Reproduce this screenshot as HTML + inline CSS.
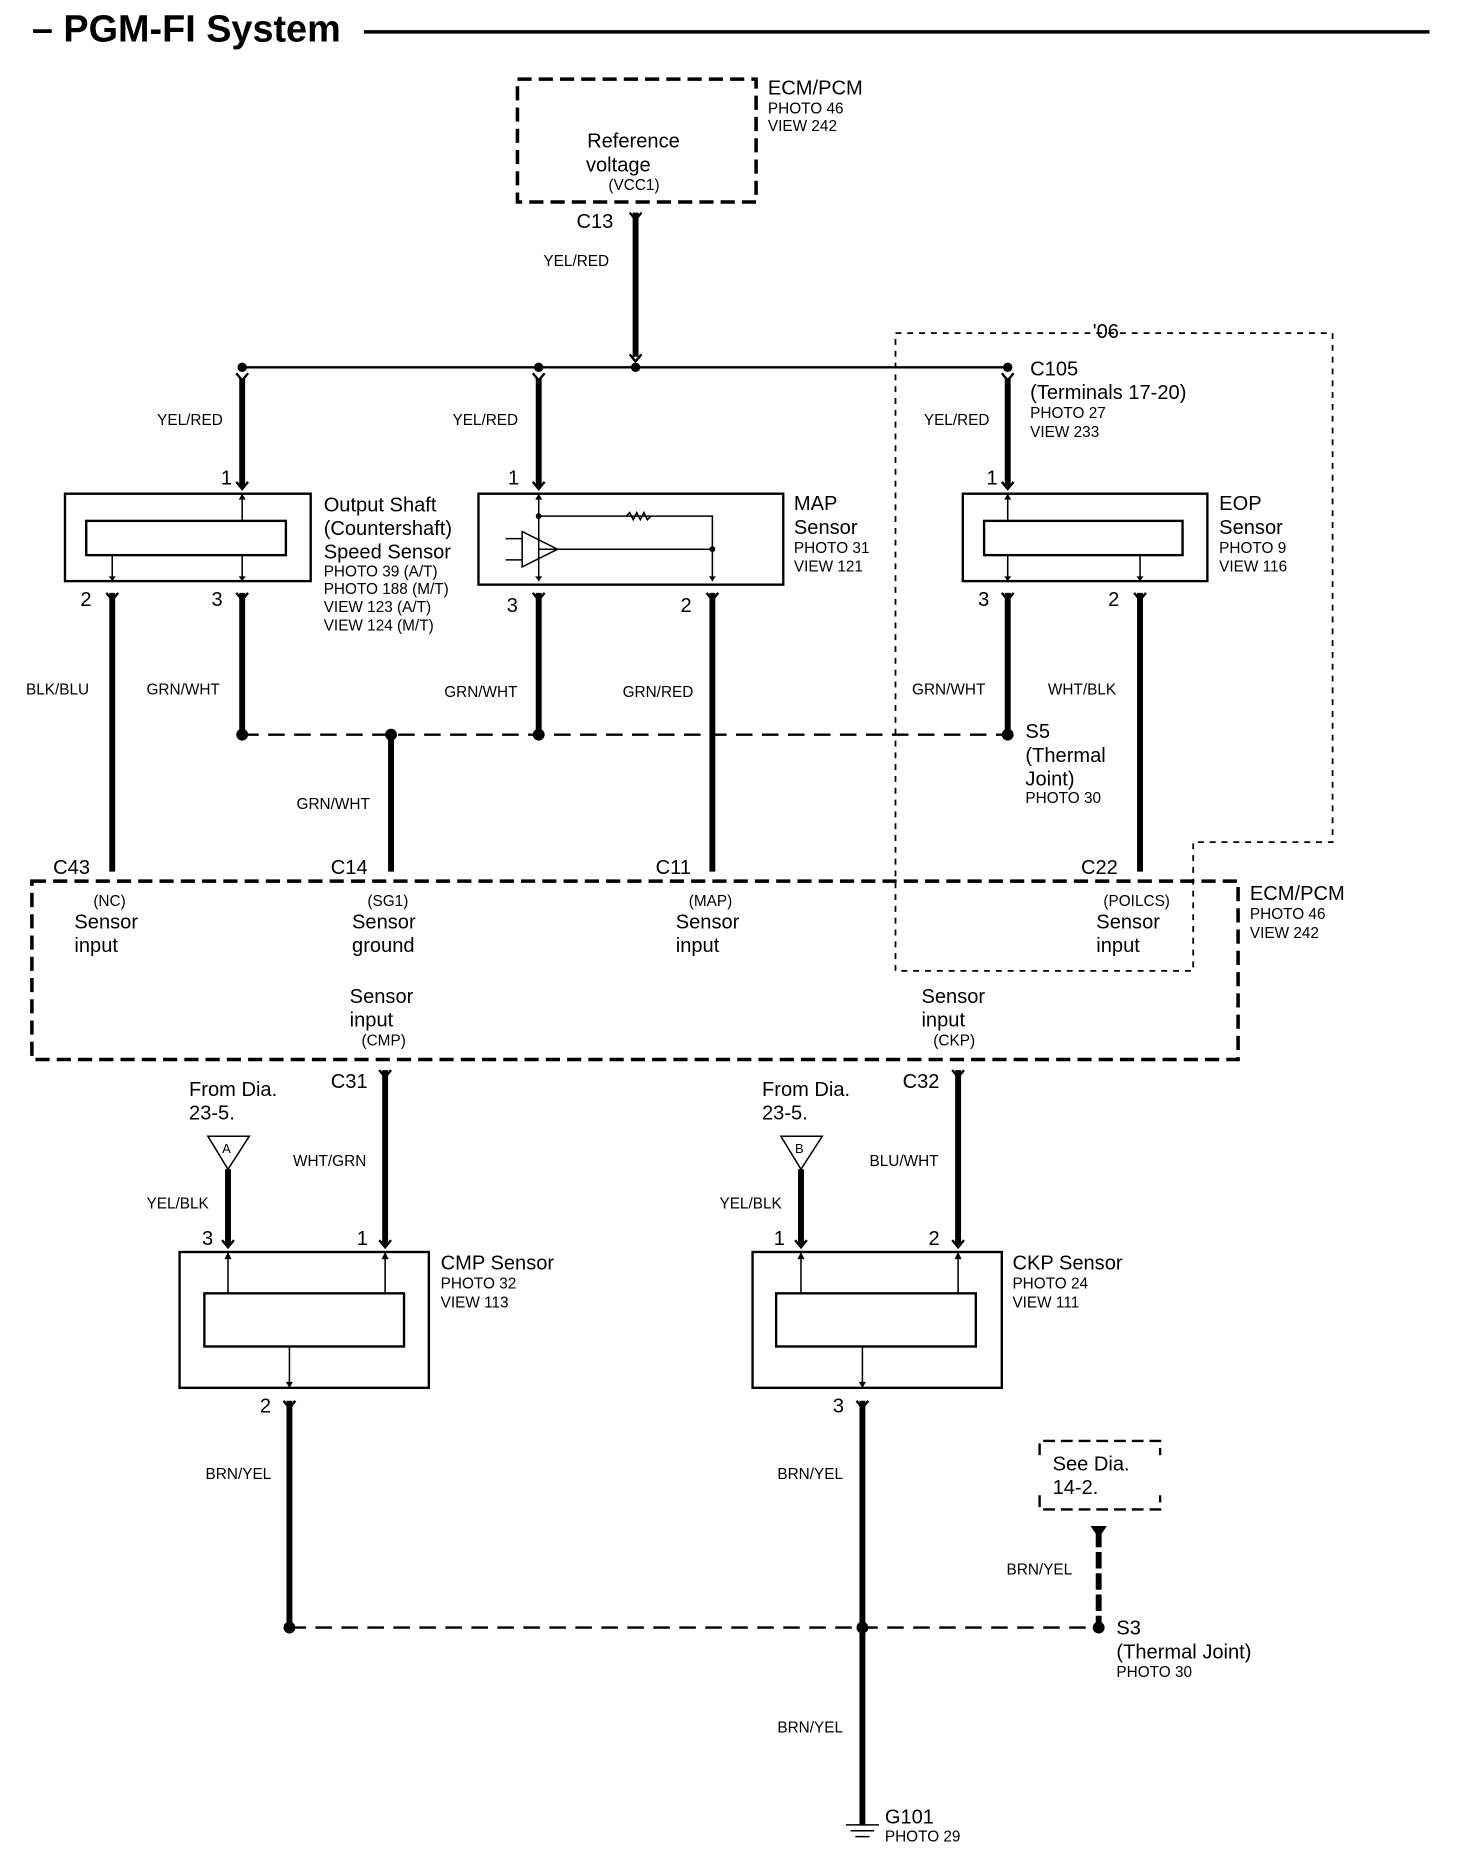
<!DOCTYPE html>
<html><head><meta charset="utf-8"><style>html,body{margin:0;padding:0;background:#fff}svg{display:block}</style></head><body>
<svg width="1472" height="1852" viewBox="0 0 1246 1568" preserveAspectRatio="none" xmlns="http://www.w3.org/2000/svg" font-family="Liberation Sans, sans-serif" fill="#000">
<defs>
<g id="cv"><path d="M-5,-6 L0,0 L5,-6" fill="none" stroke="#000" stroke-width="2"/></g>
</defs>
<text x="27" y="35" font-size="32" font-weight="bold">– PGM-FI System</text>
<line x1="308" y1="27" x2="1210" y2="27" stroke="#000" stroke-width="3"/>

<g fill="none" stroke="#000" stroke-width="3" stroke-dasharray="12,6">
<rect x="438" y="67" width="202" height="104"/>
<rect x="27" y="746" width="1021" height="151"/>
</g>
<path d="M758,282 H1128 V713 H1010 V822 H758 Z" fill="none" stroke="#000" stroke-width="1.5" stroke-dasharray="5,5"/>
<path d="M880,1232 V1220 H982 V1232 M880,1266 V1278 H982 V1266" fill="none" stroke="#000" stroke-width="2" stroke-dasharray="10,5"/>
<text x="891" y="1245" font-size="17">See Dia.</text><text x="891" y="1265" font-size="17">14-2.</text>

<g font-size="17">
<text x="650" y="80">ECM/PCM</text>
<text x="497" y="125">Reference</text><text x="496" y="145">voltage</text>
<text x="488" y="193">C13</text>
<text x="872" y="318">C105</text><text x="872" y="338">(Terminals 17-20)</text>
<text x="274" y="433">Output Shaft</text><text x="274" y="453">(Countershaft)</text><text x="274" y="473">Speed Sensor</text>
<text x="672" y="432">MAP</text><text x="672" y="452">Sensor</text>
<text x="1032" y="432">EOP</text><text x="1032" y="452">Sensor</text>
<text x="868" y="625">S5</text><text x="868" y="645">(Thermal</text><text x="868" y="665">Joint)</text>
<text x="45" y="740">C43</text><text x="280" y="740">C14</text><text x="555" y="740">C11</text><text x="915" y="740">C22</text>
<text x="63" y="786">Sensor</text><text x="63" y="806">input</text>
<text x="298" y="786">Sensor</text><text x="298" y="806">ground</text>
<text x="572" y="786">Sensor</text><text x="572" y="806">input</text>
<text x="928" y="786">Sensor</text><text x="928" y="806">input</text>
<text x="1058" y="762">ECM/PCM</text>
<text x="296" y="849">Sensor</text><text x="296" y="869">input</text>
<text x="780" y="849">Sensor</text><text x="780" y="869">input</text>
<text x="280" y="921">C31</text><text x="764" y="921">C32</text>
<text x="160" y="928">From Dia.</text><text x="160" y="948">23-5.</text>
<text x="645" y="928">From Dia.</text><text x="645" y="948">23-5.</text>
<text x="373" y="1075">CMP Sensor</text><text x="857" y="1075">CKP Sensor</text>
<text x="945" y="1384">S3</text><text x="945" y="1404">(Thermal Joint)</text>
<text x="749" y="1544">G101</text>
<text x="187" y="410">1</text><text x="68" y="513">2</text><text x="179" y="513">3</text>
<text x="430" y="410">1</text><text x="429" y="518">3</text><text x="576" y="518">2</text>
<text x="835" y="410">1</text><text x="828" y="513">3</text><text x="938" y="513">2</text>
<text x="171" y="1054">3</text><text x="302" y="1054">1</text>
<text x="655" y="1054">1</text><text x="786" y="1054">2</text>
<text x="220" y="1196">2</text><text x="705" y="1196">3</text>
<text x="925" y="286">'06</text>
</g>
<g font-size="13">
<text x="650" y="96">PHOTO 46</text><text x="650" y="111">VIEW 242</text>
<text x="515" y="161">(VCC1)</text>
<text x="460" y="225">YEL/RED</text>
<text x="133" y="360">YEL/RED</text><text x="383" y="360">YEL/RED</text><text x="782" y="360">YEL/RED</text>
<text x="872" y="354">PHOTO 27</text><text x="872" y="370">VIEW 233</text>
<text x="274" y="488">PHOTO 39 (A/T)</text><text x="274" y="503">PHOTO 188 (M/T)</text><text x="274" y="518">VIEW 123 (A/T)</text><text x="274" y="534">VIEW 124 (M/T)</text>
<text x="672" y="468">PHOTO 31</text><text x="672" y="484">VIEW 121</text>
<text x="1032" y="468">PHOTO 9</text><text x="1032" y="484">VIEW 116</text>
<text x="22" y="588">BLK/BLU</text><text x="124" y="588">GRN/WHT</text><text x="376" y="590">GRN/WHT</text><text x="527" y="590">GRN/RED</text>
<text x="772" y="588">GRN/WHT</text><text x="887" y="588">WHT/BLK</text>
<text x="868" y="680">PHOTO 30</text>
<text x="251" y="685">GRN/WHT</text>
<text x="79" y="767">(NC)</text><text x="311" y="767">(SG1)</text><text x="583" y="767">(MAP)</text><text x="934" y="767">(POILCS)</text>
<text x="1058" y="778">PHOTO 46</text><text x="1058" y="794">VIEW 242</text>
<text x="306" y="885">(CMP)</text><text x="790" y="885">(CKP)</text>
<text x="248" y="987">WHT/GRN</text><text x="736" y="987">BLU/WHT</text>
<text x="124" y="1023">YEL/BLK</text><text x="609" y="1023">YEL/BLK</text>
<text x="373" y="1091">PHOTO 32</text><text x="373" y="1107">VIEW 113</text>
<text x="857" y="1091">PHOTO 24</text><text x="857" y="1107">VIEW 111</text>
<text x="174" y="1252">BRN/YEL</text><text x="658" y="1252">BRN/YEL</text><text x="852" y="1333">BRN/YEL</text>
<text x="945" y="1420">PHOTO 30</text>
<text x="658" y="1467">BRN/YEL</text>
<text x="749" y="1559">PHOTO 29</text>
</g>

<g stroke="#000" stroke-width="5">
<line x1="538" y1="180" x2="538" y2="302"/>
<line x1="205" y1="320" x2="205" y2="412"/><line x1="456" y1="320" x2="456" y2="412"/><line x1="853" y1="320" x2="853" y2="412"/>
<line x1="95" y1="502" x2="95" y2="738"/><line x1="205" y1="502" x2="205" y2="622"/><line x1="456" y1="502" x2="456" y2="622"/>
<line x1="603" y1="502" x2="603" y2="738"/><line x1="853" y1="502" x2="853" y2="622"/><line x1="965" y1="502" x2="965" y2="738"/>
<line x1="331" y1="622" x2="331" y2="738"/>
<line x1="326" y1="906" x2="326" y2="1054"/><line x1="811" y1="906" x2="811" y2="1054"/>
<line x1="193" y1="990" x2="193" y2="1054"/><line x1="678" y1="990" x2="678" y2="1054"/>
<line x1="245" y1="1186" x2="245" y2="1378"/><line x1="730" y1="1186" x2="730" y2="1545"/>
<line x1="930" y1="1296" x2="930" y2="1378" stroke-dasharray="14,4"/>
</g>
<line x1="205" y1="311" x2="853" y2="311" stroke="#000" stroke-width="2"/>
<line x1="205" y1="622" x2="853" y2="622" stroke="#000" stroke-width="2" stroke-dasharray="14,8"/>
<line x1="245" y1="1378" x2="930" y2="1378" stroke="#000" stroke-width="2" stroke-dasharray="14,8"/>
<g>
<circle cx="205" cy="311" r="4"/><circle cx="456" cy="311" r="4"/><circle cx="538" cy="311" r="4"/><circle cx="853" cy="311" r="4"/>
<circle cx="205" cy="622" r="5"/><circle cx="331" cy="622" r="5"/><circle cx="456" cy="622" r="5"/><circle cx="853" cy="622" r="5"/>
<circle cx="245" cy="1378" r="5"/><circle cx="730" cy="1378" r="5"/><circle cx="930" cy="1378" r="5"/>
</g>
<g>
<use href="#cv" x="538" y="186"/><use href="#cv" x="538" y="306"/>
<use href="#cv" x="205" y="322"/><use href="#cv" x="456" y="322"/><use href="#cv" x="853" y="322"/>
<use href="#cv" x="205" y="414"/><use href="#cv" x="456" y="414"/><use href="#cv" x="853" y="414"/>
<use href="#cv" x="95" y="508"/><use href="#cv" x="205" y="508"/><use href="#cv" x="456" y="508"/><use href="#cv" x="603" y="508"/><use href="#cv" x="853" y="508"/><use href="#cv" x="965" y="508"/>
<use href="#cv" x="326" y="912"/><use href="#cv" x="811" y="912"/>
<use href="#cv" x="193" y="1056"/><use href="#cv" x="326" y="1056"/><use href="#cv" x="678" y="1056"/><use href="#cv" x="811" y="1056"/>
<use href="#cv" x="245" y="1192"/><use href="#cv" x="730" y="1192"/>
</g>
<path d="M923,1292 H937 L930,1302 Z"/>

<g fill="none" stroke="#000" stroke-width="2">
<rect x="55" y="418" width="208" height="74"/><rect x="73" y="441" width="169" height="29"/>
<rect x="405" y="418" width="258" height="77"/>
<rect x="815" y="418" width="207" height="74"/><rect x="833" y="441" width="168" height="29"/>
<rect x="152" y="1060" width="211" height="115"/><rect x="173" y="1095" width="169" height="45"/>
<rect x="637" y="1060" width="211" height="115"/><rect x="657" y="1095" width="169" height="45"/>
</g>
<g fill="none" stroke="#000" stroke-width="1.3">
<path d="M95,470 V492 M205,418 V441 M205,470 V492 M853,418 V441 M853,470 V492 M965,470 V492"/>
<path d="M456,418 V492 M456,437 H603 V492 M456,465 H470 M603,465 H470"/>
<path d="M442,450 L472,465 L442,480 Z M428,456 H442 M428,474 H442"/>
<path d="M193,1060 V1095 M326,1060 V1095 M245,1140 V1175 M678,1060 V1095 M811,1060 V1095 M730,1140 V1175"/>
<path d="M530,437 l3,-3 3,6 3,-6 3,6 3,-6 3,6 3,-3"/>
<path d="M176,962 H211 L193,990 Z M661,962 H696 L678,990 Z"/>
<path d="M716,1545 H744 M720,1550 H740 M724,1555 H736"/>
</g>
<circle cx="456" cy="437" r="2.5"/><circle cx="603" cy="465" r="2.5"/>
<g fill="#000" stroke="none">
<path d="M202,423 l3,-5 3,5z M202,488 l3,4 3,-4z M92,488 l3,4 3,-4z M850,423 l3,-5 3,5z M850,488 l3,4 3,-4z M962,488 l3,4 3,-4z M453,423 l3,-5 3,5z M453,488 l3,4 3,-4z M600,488 l3,4 3,-4z"/>
<path d="M190,1066 l3,-6 3,6z M323,1066 l3,-6 3,6z M242,1170 l3,5 3,-5z M675,1066 l3,-6 3,6z M808,1066 l3,-6 3,6z M727,1170 l3,5 3,-5z"/>
</g>
<text x="188" y="976" font-size="11">A</text><text x="673" y="976" font-size="11">B</text>
</svg>
</body></html>
